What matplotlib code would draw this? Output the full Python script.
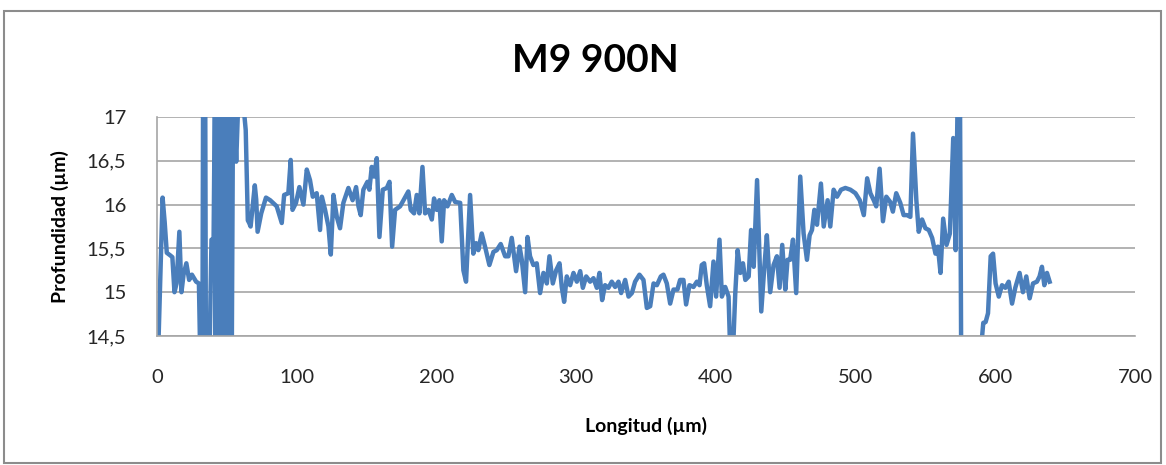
import matplotlib
matplotlib.use("Agg")
import matplotlib.pyplot as plt
from matplotlib.patches import Rectangle

title = "M9 900N"
x_label = "Longitud (µm)"
y_label = "Profundidad (µm)"
x_ticks = [0, 100, 200, 300, 400, 500, 600, 700]
y_ticks = [14.5, 15, 15.5, 16, 16.5, 17]
y_tick_labels = ["14,5", "15", "15,5", "16", "16,5", "17"]

longitud = [
    0, 1, 4, 5.5, 7, 9.5, 11, 12.5, 14, 16, 17.5, 19, 21, 23, 25, 28, 30, 31, 32.5,
    33, 34.5, 35, 37.5, 39, 40.5, 41.5, 42, 42.5, 43, 43.5, 44, 44.5, 45, 45.5, 46,
    46.5, 47, 47.5, 48, 48.5, 49, 49.5, 50, 50.5, 51, 51.5, 52, 52.5, 53, 53.5,
    54.5, 56.7, 58, 59.5, 61.5, 63.5, 65, 66, 67,
    70, 71, 72, 74.6, 78, 81, 85.7, 89.3, 91, 94, 95.7, 97, 99.5, 101.9, 104.8,
    107.2, 109.5, 111.5, 114.3, 116.7, 118, 120.3, 122.7, 124.4, 126.3, 128.7,
    131, 133.4, 137, 140, 142.5, 144.2, 145.8, 147.7, 150.6, 152, 153.7, 155.4,
    157.3, 159.2, 161.6, 164.5, 166.4, 168.3, 170.4, 174, 176.4, 179.9, 181.6,
    184, 185.9, 187.8, 190, 191.9, 194.3, 196.7, 198.3, 200.2, 202.1, 203.8,
    205.5, 207.9, 211, 213.4, 217, 219.3, 221.2, 224.1, 226.4, 228.4, 230,
    232.4, 234.8, 237.9, 240.8, 243.2, 246, 249.2, 251.5, 253.9, 257, 259.5,
    261.1, 263.5, 265.2, 267, 269.4, 271.8, 274.2, 276.6, 279, 280.9, 283.3,
    285.7, 288.1, 289.7, 291.4, 293.3, 295.7, 298.1, 300.5, 302.9, 304.8,
    307.2, 310, 312.4, 314.8, 316.7, 318.6, 320.7, 323.1, 325.5, 327.9, 330.3,
    332.2, 335.1, 337.5, 339.9, 342.2, 345.3, 348.2, 350.6, 353, 355.4, 357.8,
    360.6, 362.5, 364.9, 367.3, 369.7, 372.5, 374.4, 376.8, 378.7, 381.1, 384,
    386.4, 388.3, 389.9, 391.6, 393.5, 395.9, 398.3, 400.2, 401.2, 402.6,
    404.3, 406.7, 409.1, 410.3, 412.2, 413.9, 415.6, 417.5, 419.4, 421.1,
    423.5, 425.2, 427.1, 429.5, 432.5, 434.7, 436.5, 438.9, 441.3, 443.7,
    445.6, 447.5, 449.7, 451.3, 453.2, 455.2, 457.5, 460.4, 462.8, 465.2,
    467.1, 468.8, 470.5, 472.4, 475.2, 477.2, 480, 481.9, 484.3, 486.7, 489.6,
    492.7, 496.3, 499.9, 503, 505.9, 508.3, 510.6, 513, 514.8, 517.2, 519.6,
    522, 524.8, 526.7, 529.1, 532, 534.4, 536.8, 539.2, 541.1, 543.5, 545.2,
    547.6, 550, 552.4, 554.8, 557.2, 558.9, 560.8, 562.7, 565.1, 567.5, 569.9,
    571.6, 573.2, 574.7, 575.6, 589.5, 591.4, 593.1, 594.8, 596.7, 598.4,
    600.2, 602.5, 604.8, 607.2, 609.6, 612, 614.3, 617.4, 619.8, 622.2, 624.6,
    627, 629.8, 631.7, 633.4, 635.1, 637, 638.9,
]

profundidad = [
    14.2, 14.4, 16.08, 15.8, 15.45, 15.42, 15.4, 15.0, 15.1, 15.69, 15.0, 15.2, 15.33, 15.14, 15.2, 15.12, 15.1, 14.2, 14.2,
    17.4, 17.4, 14.2, 14.2, 15.6, 15.6, 17.4, 14.2, 17.4, 14.2, 17.4, 14.8, 17.4, 14.2, 17.4, 14.2,
    17.4, 14.2, 17.4, 16.8, 14.2, 17.4, 14.2, 17.4, 14.2, 17.4, 14.2, 17.4, 14.2, 17.4, 14.2,
    17.4, 16.49, 17.1, 17.4, 17.2, 16.85, 15.82, 15.79, 15.75,
    16.22, 16.06, 15.69, 15.9, 16.08, 16.05, 15.98, 15.79, 16.11, 16.13, 16.51, 15.94, 16.02, 16.2, 16.0,
    16.4, 16.28, 16.09, 16.13, 15.71, 16.09, 15.94, 15.75, 15.43, 16.11, 15.86,
    15.73, 16.02, 16.19, 16.05, 16.2, 15.98, 15.88, 16.17, 16.26, 16.17, 16.43, 16.32,
    16.53, 15.63, 16.17, 16.19, 16.26, 15.52, 15.94, 15.98, 16.05, 16.15, 15.94,
    15.9, 16.11, 15.9, 16.43, 15.9, 15.94, 15.83, 16.07, 15.94, 16.05, 15.58,
    16.05, 15.98, 16.11, 16.03, 16.02, 15.25, 15.12, 16.11, 15.44, 15.56, 15.48,
    15.67, 15.52, 15.31, 15.46, 15.48, 15.55, 15.41, 15.41, 15.62, 15.24, 15.52,
    15.37, 15.0, 15.63, 15.41, 15.31, 15.33, 14.99, 15.22, 15.1, 15.41, 15.1,
    15.25, 15.33, 15.06, 14.89, 15.18, 15.08, 15.22, 15.12, 15.24, 15.05,
    15.18, 15.12, 15.16, 15.05, 15.22, 14.91, 15.08, 15.05, 15.12, 15.06, 15.12,
    14.99, 15.14, 14.95, 14.99, 15.12, 15.2, 15.14, 14.82, 14.84, 15.1, 15.08,
    15.18, 15.2, 15.1, 14.87, 15.03, 15.03, 15.14, 15.14, 14.86, 15.08, 15.06,
    15.12, 15.08, 15.31, 15.33, 15.08, 14.84, 15.35, 14.95, 15.22, 15.6,
    14.95, 15.06, 14.95, 14.3, 14.3, 14.99, 15.48, 15.22, 15.33, 15.14,
    15.18, 15.71, 15.29, 16.28, 14.78, 15.29, 15.65, 15.0, 15.31, 15.41,
    15.05, 15.54, 15.03, 15.37, 15.37, 15.6, 14.99, 16.32, 15.67, 15.37,
    15.65, 15.71, 15.94, 15.77, 16.24, 15.75, 16.05, 15.75, 16.17, 16.09, 16.17,
    16.19, 16.17, 16.13, 16.05, 15.88, 16.3, 16.13, 16.05, 15.98, 16.41, 15.81,
    16.09, 16.03, 15.92, 16.13, 16.02, 15.88, 15.88, 15.86, 16.81, 16.05, 15.69,
    15.83, 15.73, 15.71, 15.62, 15.44, 15.52, 15.22, 15.84, 15.54, 15.67, 16.76,
    15.48, 17.4, 17.4, 14.2, 14.3, 14.65, 14.66, 14.76, 15.41, 15.44,
    15.1, 14.95, 15.08, 15.05, 15.12, 14.87, 15.05, 15.22, 15.0, 15.18, 14.93,
    15.1, 15.12, 15.18, 15.29, 15.08, 15.22, 15.12,
]

plt.rcParams['font.family'] = ['Lato', 'DejaVu Sans']

fig = plt.figure(figsize=(11.66, 4.65), dpi=100)
ax = fig.add_axes([157/1166, 1 - 336/465, (1135-157)/1166, (336-117)/465])

ax.plot(longitud, profundidad, color='#4A7EBB', lw=3.2, solid_joinstyle='round')

ax.set_xlim(0, 700)
ax.set_ylim(14.5, 17)
ax.set_xticks(x_ticks)
ax.set_yticks(y_ticks)
ax.set_yticklabels(y_tick_labels)
ax.tick_params(axis='both', length=0, labelsize=14.5, colors='#262626')
ax.tick_params(axis='y', pad=22)
ax.tick_params(axis='x', pad=24)
ax.grid(axis='y', color='#A6A6A6', lw=1.2)
ax.set_axisbelow(True)
for s in ['top', 'right']:
    ax.spines[s].set_visible(False)
for s in ['left', 'bottom']:
    ax.spines[s].set_color('#A6A6A6')
    ax.spines[s].set_linewidth(1.2)

ax.set_xlabel(x_label, fontsize=14, fontweight='bold', labelpad=22)
ax.set_ylabel(y_label, fontsize=14, fontweight='bold', labelpad=13)
fig.text(595/1166, 1 - 60/465, title, fontsize=28, fontweight='bold',
         ha='center', va='center')

fig.patches.append(Rectangle((4/1166, 2/465), 1157/1166, 452/465,
                             transform=fig.transFigure, fill=False,
                             edgecolor='#8C8C8C', lw=1.5))

fig.savefig('out.png', dpi=100)
